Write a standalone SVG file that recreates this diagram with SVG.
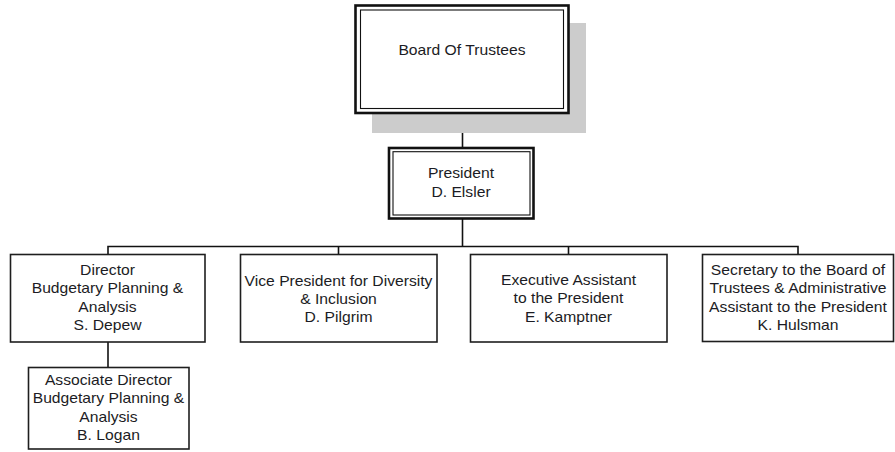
<svg xmlns="http://www.w3.org/2000/svg" width="895" height="452" viewBox="0 0 895 452">
  <style>
    .box { fill: #ffffff; stroke: #1e1e1e; stroke-width: 1.6; }
    .outer { fill: #ffffff; stroke: #111111; stroke-width: 2.6; }
    .inner { fill: none; stroke: #111111; stroke-width: 1.1; }
    .shadow { fill: #cccccc; }
    .link { fill: none; stroke: #111111; stroke-width: 1.6; }
    .label { font-family: "Liberation Sans", Arial, sans-serif; font-size: 14px; fill: #1c1c24; text-anchor: middle; }
  </style>

  <!-- reporting lines -->
  <g id="connectors">
    <path class="link" d="M462.5,113 V147"/>
    <path class="link" d="M462.5,219 V246.5"/>
    <path class="link" d="M108,254 V246.5 H798 V254"/>
    <path class="link" d="M338.5,246.5 V254"/>
    <path class="link" d="M568.5,246.5 V254"/>
    <path class="link" d="M108,342 V367"/>
  </g>

  <g id="board">
    <rect class="shadow" x="372" y="23" width="214" height="110"/>
    <rect class="outer" x="355.5" y="5.5" width="213" height="107.5"/>
    <rect class="inner" x="360.5" y="10" width="203" height="98.5"/>
    <g transform="translate(462,55) scale(1.12,1)">
      <text class="label" x="0" y="0">Board Of Trustees</text>
    </g>
  </g>

  <g id="president">
    <rect class="outer" x="389" y="148" width="144.5" height="70.5"/>
    <rect class="inner" x="393" y="151.7" width="137" height="63.3"/>
    <g transform="translate(461,0) scale(1.12,1)">
      <text class="label" x="0" y="178">President</text>
      <text class="label" x="0" y="197">D. Elsler</text>
    </g>
  </g>

  <g id="director-budget">
    <rect class="box" x="10.5" y="254.5" width="194.5" height="87.5"/>
    <g transform="translate(107.5,0) scale(1.12,1)">
      <text class="label" x="0" y="275">Director</text>
      <text class="label" x="0" y="293.3">Budgetary Planning &amp;</text>
      <text class="label" x="0" y="311.6">Analysis</text>
      <text class="label" x="0" y="330">S. Depew</text>
    </g>
  </g>

  <g id="associate-director">
    <rect class="box" x="28.5" y="367.5" width="160.5" height="81.5"/>
    <g transform="translate(108.5,0) scale(1.12,1)">
      <text class="label" x="0" y="385">Associate Director</text>
      <text class="label" x="0" y="403.3">Budgetary Planning &amp;</text>
      <text class="label" x="0" y="421.6">Analysis</text>
      <text class="label" x="0" y="440">B. Logan</text>
    </g>
  </g>

  <g id="vp-diversity">
    <rect class="box" x="240.5" y="254.5" width="196.5" height="87.5"/>
    <g transform="translate(338.5,0) scale(1.12,1)">
      <text class="label" x="0" y="286">Vice President for Diversity</text>
      <text class="label" x="0" y="304">&amp; Inclusion</text>
      <text class="label" x="0" y="322.5">D. Pilgrim</text>
    </g>
  </g>

  <g id="executive-assistant">
    <rect class="box" x="470.5" y="254.5" width="196.5" height="87.5"/>
    <g transform="translate(568.5,0) scale(1.12,1)">
      <text class="label" x="0" y="285.5">Executive Assistant</text>
      <text class="label" x="0" y="303.5">to the President</text>
      <text class="label" x="0" y="322">E. Kamptner</text>
    </g>
  </g>

  <g id="secretary">
    <rect class="box" x="702.5" y="254.5" width="191" height="87"/>
    <g transform="translate(798,0) scale(1.12,1)">
      <text class="label" x="0" y="275">Secretary to the Board of</text>
      <text class="label" x="0" y="293.3">Trustees &amp; Administrative</text>
      <text class="label" x="0" y="311.6">Assistant to the President</text>
      <text class="label" x="0" y="330">K. Hulsman</text>
    </g>
  </g>
</svg>
